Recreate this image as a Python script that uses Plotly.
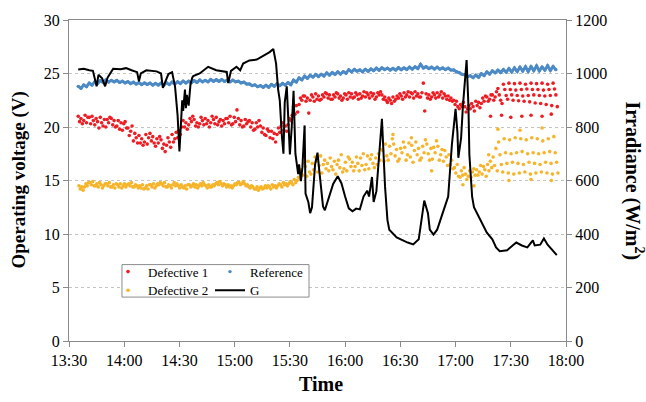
import pandas as pd
import plotly.graph_objects as go

START = pd.Timestamp("2014-06-01 13:30")


def clock(minutes):
    """Minutes after 13:30 -> timestamp strings for the date axis."""
    return [(START + pd.Timedelta(minutes=m)).strftime("%Y-%m-%d %H:%M:%S") for m in minutes]


# Module voltages are logged every 3 min from 13:35; each row below is one
# reading per interval, rows taken at staggered instants within the interval.
step_minutes = [5 + 3 * i for i in range(87)]

# ---- Defective 1 (V) ----
def1_a = [21.0, 20.6, 20.9, 20.2, 20.9, 20.0, 20.8, 20.1, 19.7, 19.9,
          18.7, 19.2, 18.6, 19.4, 18.2, 18.8, 18.3, 19.3, 19.0, 20.6,
          20.2, 20.7, 20.3, 20.8, 20.4, 20.9, 20.1, 20.8, 20.3, 20.8,
          20.1, 20.6, 19.8, 20.1, 19.2, 19.6, 19.3, 20.4, 20.2, 21.9,
          22.1, 22.9, 22.5, 23.1, 22.6, 23.1, 22.6, 23.1, 22.7, 23.2,
          22.8, 23.1, 22.8, 23.2, 22.8, 23.0, 22.3, 22.8, 22.7, 23.2,
          22.8, 23.3, 22.8, 23.1, 22.8, 23.2, 22.7, 22.9, 22.5, 21.7,
          21.9, 21.7, 22.4, 22.2, 22.8, 23.0, 23.6, 24.0, 24.1, 24.05,
          24.1, 24.0, 24.1, 24.05, 24.1, 24.0, 24.1]
def1_b = [20.5, 21.1, 20.3, 20.8, 20.4, 20.7, 20.2, 20.6, 20.3, 19.2,
          19.4, 18.5, 19.3, 18.7, 18.9, 18.0, 19.0, 18.6, 19.7, 20.0,
          20.8, 20.1, 20.9, 20.3, 21.0, 20.2, 20.6, 20.4, 20.9, 20.2,
          20.7, 20.0, 20.4, 19.5, 19.8, 18.9, 19.9, 19.7, 20.8, 21.2,
          22.7, 22.4, 23.0, 22.6, 23.0, 22.7, 23.0, 22.7, 23.1, 22.8,
          23.2, 22.7, 23.2, 22.9, 23.2, 22.6, 22.7, 22.4, 23.1, 22.8,
          23.2, 22.9, 23.2, 22.7, 23.2, 22.8, 23.1, 22.5, 22.1, 22.1,
          21.4, 22.2, 22.0, 22.7, 22.4, 22.5, 23.0, 23.5, 23.5, 23.45,
          23.5, 23.55, 23.5, 23.5, 23.45, 23.5, 23.55]
def1_c = [20.8, 20.4, 21.0, 20.5, 20.1, 20.4, 20.6, 19.8, 20.5, 19.6,
          19.0, 18.9, 18.4, 19.1, 18.5, 18.4, 18.6, 18.9, 19.3, 20.4,
          20.5, 20.4, 20.6, 20.6, 20.7, 20.5, 20.3, 21.0, 20.5, 20.6,
          20.3, 20.4, 20.0, 19.9, 19.6, 19.4, 19.5, 20.1, 20.6, 22.0,
          22.5, 22.7, 22.8, 22.9, 22.8, 23.0, 22.8, 22.9, 23.0, 23.1,
          23.0, 22.9, 23.0, 23.1, 23.0, 22.8, 22.5, 22.6, 22.9, 23.0,
          23.1, 23.1, 24.1, 23.0, 23.0, 23.0, 22.9, 22.7, 22.4, 21.9,
          21.7, 21.9, 22.3, 22.4, 22.6, 22.8, 22.5, 22.95, 23.0, 22.95,
          22.9, 22.95, 23.0, 22.95, 22.9, 22.95, 23.0]
def1_d = [20.3, 20.9, 20.6, 19.9, 20.7, 20.9, 20.0, 20.4, 19.9, 20.1,
          18.5, 18.3, 19.0, 18.5, 19.1, 17.7, 18.1, 19.5, 20.0, 19.8,
          21.0, 20.0, 20.2, 20.0, 20.3, 20.7, 20.8, 20.2, 21.6, 20.0,
          20.5, 19.7, 20.6, 19.3, 19.0, 18.6, 20.1, 19.6, 21.1, 21.4,
          22.9, 21.3, 22.4, 22.5, 23.2, 22.6, 23.2, 22.5, 22.6, 22.7,
          22.6, 23.3, 22.7, 22.6, 23.3, 22.5, 22.2, 22.9, 22.6, 23.3,
          22.7, 22.8, 21.5, 22.6, 22.7, 23.3, 22.6, 22.4, 21.9, 22.3,
          22.0, 21.5, 21.8, 22.9, 23.0, 23.3, 22.2, 22.6, 22.5, 22.45,
          22.4, 22.35, 22.25, 22.2, 22.1, 22.0, 21.9]
def1_stray_minutes = [229, 235, 240, 246, 251, 257, 262]
def1_stray_values = [21.0, 21.1, 20.9, 21.0, 21.1, 21.0, 21.2]

# ---- Reference (V) ----
ref_a = [23.80, 23.92, 24.10, 24.22, 24.33, 24.40, 24.36, 24.34, 24.27, 24.24,
         24.18, 24.14, 24.11, 24.09, 24.07, 24.10, 24.12, 24.19, 24.22, 24.29,
         24.27, 24.33, 24.39, 24.36, 24.44, 24.41, 24.43, 24.37, 24.38, 24.27,
         24.19, 24.02, 23.94, 23.87, 23.89, 23.97, 24.04, 24.07, 24.14, 24.38,
         24.58, 24.74, 24.82, 24.90, 24.92, 25.04, 25.08, 25.14, 25.17, 25.34,
         25.38, 25.33, 25.39, 25.42, 25.49, 25.52, 25.49, 25.47, 25.54, 25.52,
         25.59, 25.62, 25.85, 25.63, 25.58, 25.59, 25.52, 25.49, 25.33, 25.08,
         24.88, 24.78, 24.84, 24.98, 25.14, 25.23, 25.30, 25.36, 25.45, 25.52,
         25.58, 25.62, 25.63, 25.70, 25.60, 25.72, 25.65]
ref_b = [23.62, 23.77, 23.93, 24.06, 24.18, 24.21, 24.23, 24.17, 24.12, 24.07,
         24.02, 23.97, 23.98, 23.92, 23.93, 23.91, 23.97, 24.03, 24.07, 24.12,
         24.13, 24.17, 24.22, 24.23, 24.27, 24.28, 24.26, 24.22, 24.23, 24.12,
         24.02, 23.87, 23.77, 23.72, 23.72, 23.82, 23.87, 23.93, 23.96, 24.21,
         24.42, 24.56, 24.67, 24.72, 24.77, 24.86, 24.92, 24.96, 25.03, 25.16,
         25.22, 25.17, 25.21, 25.27, 25.31, 25.37, 25.32, 25.33, 25.36, 25.38,
         25.41, 25.47, 25.52, 25.47, 25.42, 25.41, 25.37, 25.32, 25.16, 24.92,
         24.72, 24.62, 24.66, 24.82, 24.96, 25.07, 25.10, 25.13, 25.15, 25.20,
         25.24, 25.20, 25.28, 25.25, 25.32, 25.30, 25.36]

# ---- Defective 2 (V) ----
def2_a = [14.5, 14.4, 14.8, 14.5, 14.6, 14.7, 14.4, 14.6, 14.5, 14.7,
          14.4, 14.5, 14.3, 14.6, 14.5, 14.7, 14.4, 14.6, 14.5, 14.3,
          14.6, 14.4, 14.7, 14.5, 14.4, 14.8, 14.5, 14.6, 14.5, 14.8,
          14.7, 14.3, 14.2, 14.4, 14.3, 14.6, 14.5, 14.8, 14.7, 15.1,
          15.2, 16.3, 15.6, 16.8, 15.7, 16.6, 16.0, 16.9, 16.1, 17.0,
          16.3, 17.1, 16.5, 17.4, 16.5, 17.8, 16.9, 18.4, 17.0, 18.1,
          17.2, 18.6, 17.1, 18.4, 17.0, 18.2, 16.8, 17.4, 16.2, 15.3,
          15.6, 15.3, 16.0, 15.6, 16.5, 17.2, 18.6, 18.9, 18.8, 19.0,
          18.9, 18.8, 19.0, 18.9, 18.7, 18.9, 19.1]
def2_b = [14.2, 14.7, 14.6, 14.7, 14.3, 14.5, 14.6, 14.4, 14.7, 14.5,
          14.6, 14.3, 14.5, 14.4, 14.7, 14.5, 14.6, 14.8, 14.3, 14.5,
          14.4, 14.6, 14.5, 14.3, 14.6, 14.6, 14.7, 14.4, 14.7, 14.6,
          14.5, 14.5, 14.4, 14.2, 14.5, 14.4, 14.7, 14.6, 14.9, 14.8,
          16.0, 15.4, 16.6, 15.8, 16.5, 15.9, 16.8, 16.2, 16.7, 16.3,
          17.2, 16.4, 17.3, 16.6, 17.5, 16.8, 18.2, 17.3, 18.0, 16.9,
          18.3, 17.4, 18.2, 17.5, 18.1, 16.9, 17.8, 16.5, 15.7, 15.9,
          15.1, 15.8, 15.5, 16.3, 15.9, 16.4, 17.4, 17.6, 17.5, 17.6,
          17.7, 17.5, 17.6, 17.5, 17.6, 17.7, 17.6]
def2_c = [14.4, 14.5, 14.9, 14.4, 14.5, 14.8, 14.3, 14.7, 14.4, 14.8,
          14.5, 14.6, 14.2, 14.7, 14.6, 14.8, 14.5, 14.5, 14.6, 14.2,
          14.5, 14.3, 14.8, 14.6, 14.5, 14.9, 14.6, 14.5, 14.6, 14.7,
          14.6, 14.4, 14.1, 14.3, 14.4, 14.5, 14.6, 14.7, 14.8, 15.0,
          15.5, 16.8, 16.0, 16.4, 16.9, 17.1, 15.6, 17.4, 15.9, 16.7,
          16.6, 17.5, 16.1, 16.2, 16.9, 18.4, 17.5, 17.9, 17.6, 17.4,
          16.7, 18.0, 17.6, 16.9, 17.6, 17.4, 17.2, 16.9, 16.5, 15.5,
          15.4, 16.1, 15.8, 16.0, 16.8, 18.0, 16.5, 16.6, 16.7, 16.6,
          16.5, 16.7, 16.6, 16.5, 16.7, 16.6, 16.7]
def2_d = [14.1, 14.8, 14.5, 14.8, 14.7, 14.4, 14.7, 14.3, 14.6, 14.4,
          14.3, 14.2, 14.6, 14.3, 14.8, 14.4, 14.3, 14.7, 14.4, 14.6,
          14.7, 14.5, 14.6, 14.4, 14.7, 14.7, 14.4, 14.3, 14.8, 14.9,
          14.4, 14.2, 14.3, 14.5, 14.2, 14.3, 14.4, 14.5, 14.6, 15.3,
          16.6, 15.8, 17.2, 17.3, 16.1, 16.3, 16.5, 15.8, 17.2, 15.9,
          15.9, 16.0, 17.0, 17.1, 17.9, 17.3, 18.9, 16.8, 18.6, 18.5,
          17.8, 16.9, 18.8, 18.0, 18.7, 17.9, 16.4, 16.1, 15.4, 16.2,
          15.9, 15.5, 16.4, 15.4, 16.2, 15.9, 15.8, 15.7, 15.6, 15.7,
          15.8, 15.6, 15.7, 15.8, 15.7, 15.6, 15.7]
def2_stray_minutes = [176, 186, 197, 214, 220, 228, 233, 239, 245, 251, 257, 262]
def2_stray_values = [19.3, 19.0, 15.9, 14.6, 14.5, 17.4, 19.8, 15.0, 19.7, 15.1, 19.9, 15.0]

# ---- Irradiance G (W/m2) ----
g_minutes = [5, 8, 11, 13, 15, 16, 18, 19.6, 21, 24,
             28, 31, 34, 37, 38, 39, 42, 44, 47.6, 50,
             51, 54, 56, 57.6, 58.5, 59, 60, 61, 61.5, 62,
             63, 63.5, 64, 65, 66, 67, 67.5, 71, 75.6, 80,
             85.7, 86.5, 88, 91, 93, 94.6, 98, 102, 105.6, 109,
             111, 112.5, 113.6, 114.5, 115.6, 116.5, 117.2, 118.3, 119, 120,
             121, 122, 123, 123.7, 124.5, 125, 126, 126.8, 128, 128.5,
             130, 131, 132, 133.7, 135, 136, 137, 138, 139, 141,
             143.5, 146, 148, 150, 152, 154, 156, 158, 160, 162,
             163, 164.6, 165.5, 167, 169, 170, 171.7, 173, 174, 178,
             184, 187, 190, 192, 193, 195, 196, 198, 200, 203,
             206, 208, 210, 211, 211.5, 213, 214, 216, 217, 217.5,
             219, 220, 223, 227, 230, 232, 234, 238, 241, 243,
             246, 249, 252, 253, 256, 258, 260, 263, 265]
g_values = [1015, 1018, 1012, 1010, 952, 995, 982, 952, 985, 1018,
            1016, 1020, 1012, 1005, 971, 1000, 1012, 1010, 1008, 1000,
            946, 998, 1005, 952, 891, 843, 709, 840, 900, 860,
            940, 870, 920, 880, 960, 985, 990, 1000, 1025, 1012,
            1006, 964, 1010, 1025, 1012, 1037, 1049, 1052, 1067, 1080,
            1092, 1037, 941, 900, 770, 700, 891, 952, 850, 697,
            800, 935, 700, 672, 624, 660, 598, 650, 806, 551,
            520, 478, 500, 660, 704, 635, 562, 503, 489, 530,
            587, 616, 590, 540, 496, 485, 495, 492, 540, 562,
            540, 613, 520, 560, 722, 831, 576, 452, 416, 387,
            368, 361, 380, 489, 525, 478, 416, 398, 416, 478,
            540, 733, 868, 781, 685, 758, 879, 1050, 879, 697,
            540, 500, 460, 405, 380, 350, 336, 339, 357, 368,
            357, 350, 376, 357, 360, 383, 360, 339, 321]
assert len(g_minutes) == len(g_values)

time_ticks = ["13:30", "14:00", "14:30", "15:00", "15:30", "16:00", "16:30", "17:00", "17:30", "18:00"]


def gather(rows, offsets, extra_minutes=(), extra_values=()):
    """Flatten staggered rows into one time-ordered series of readings."""
    pts = []
    for row, off in zip(rows, offsets):
        assert len(row) == len(step_minutes)
        pts += [(m + off, v) for m, v in zip(step_minutes, row)]
    pts += list(zip(extra_minutes, extra_values))
    pts.sort(key=lambda p: p[0])
    return clock([p[0] for p in pts]), [p[1] for p in pts]


RED = "#EE1D23"
BLUE = "#4C8AC6"
ORANGE = "#F6B42A"
AXIS = "#8A8A8A"
SERIF = "Liberation Serif"

d1x, d1y = gather([def1_a, def1_b, def1_c, def1_d], [0, 0.75, 1.5, 2.25],
                  def1_stray_minutes, def1_stray_values)
rfx, rfy = gather([ref_a, ref_b], [0, 1.5])
d2x, d2y = gather([def2_a, def2_b, def2_c, def2_d], [0.4, 1.15, 1.9, 2.65],
                  def2_stray_minutes, def2_stray_values)

fig = go.Figure()
fig.add_trace(go.Scatter(x=d1x, y=d1y, mode="markers", name="Defective 1",
                         marker=dict(color=RED, size=3.6, line=dict(width=0)),
                         legend="legend"))
# the reference readings are dense enough to merge into a solid band
fig.add_trace(go.Scatter(x=rfx, y=rfy, mode="lines", showlegend=False,
                         line=dict(color=BLUE, width=3), hoverinfo="skip"))
fig.add_trace(go.Scatter(x=rfx, y=rfy, mode="markers", name="Reference",
                         marker=dict(color=BLUE, size=3.4, line=dict(width=0)),
                         legend="legend"))
fig.add_trace(go.Scatter(x=d2x, y=d2y, mode="markers", name="Defective 2",
                         marker=dict(color=ORANGE, size=3.6, line=dict(width=0)),
                         legend="legend2"))
fig.add_trace(go.Scatter(x=clock(g_minutes), y=g_values, mode="lines", name="G",
                         line=dict(color="black", width=2), yaxis="y2",
                         legend="legend2"))

tick_times = [START.strftime("%Y-%m-%d ") + t + ":00" for t in time_ticks]

legend_style = dict(orientation="h", xanchor="left", yanchor="middle",
                    bgcolor="rgba(0,0,0,0)", borderwidth=0, itemwidth=30,
                    entrywidth=57, font=dict(family=SERIF, size=13, color="black"))

fig.update_layout(
    width=646, height=402,
    margin=dict(l=69, r=80, t=12, b=61),
    paper_bgcolor="white", plot_bgcolor="white",
    font=dict(family=SERIF, size=16, color="black"),
    xaxis=dict(type="date", range=[tick_times[0], tick_times[-1]],
               tickvals=tick_times, ticktext=time_ticks,
               showgrid=False, zeroline=False, showline=True, linecolor=AXIS,
               linewidth=1, mirror=True, ticks="outside", ticklen=5,
               tickcolor=AXIS),
    yaxis=dict(range=[0, 30], dtick=5, showgrid=True, gridcolor="#C4C4C4",
               griddash="dot", gridwidth=1, zeroline=False, showline=True,
               linecolor=AXIS, ticks="outside", ticklen=5, tickcolor=AXIS),
    yaxis2=dict(range=[0, 1200], dtick=200, overlaying="y", side="right",
                showgrid=False, zeroline=False, showline=True, linecolor=AXIS,
                ticks="outside", ticklen=5, tickcolor=AXIS),
    legend=dict(x=0.0785, y=0.216, **legend_style),
    legend2=dict(x=0.0785, y=0.158, **legend_style),
    showlegend=True,
)

# legend frame
fig.add_shape(type="rect", xref="paper", yref="paper",
              x0=0.1066, x1=0.4829, y0=0.1368, y1=0.238,
              line=dict(color=AXIS, width=1), fillcolor="white", layer="above")

fig.add_annotation(text="Operating voltage (V)", xref="paper", yref="paper",
                   x=-0.1026, y=0.5, textangle=-90, showarrow=False,
                   xanchor="center", yanchor="middle",
                   font=dict(family=SERIF, size=19, weight="bold"))
fig.add_annotation(text="Irradiance (W/m<sup>2</sup>)", xref="paper", yref="paper",
                   x=1.137, y=0.5, textangle=90, showarrow=False,
                   xanchor="center", yanchor="middle",
                   font=dict(family=SERIF, size=20, weight="bold"))
fig.add_annotation(text="Time", xref="paper", yref="paper",
                   x=0.507, y=-0.134, showarrow=False,
                   xanchor="center", yanchor="middle",
                   font=dict(family=SERIF, size=20, weight="bold"))

fig.write_html("out.html")
